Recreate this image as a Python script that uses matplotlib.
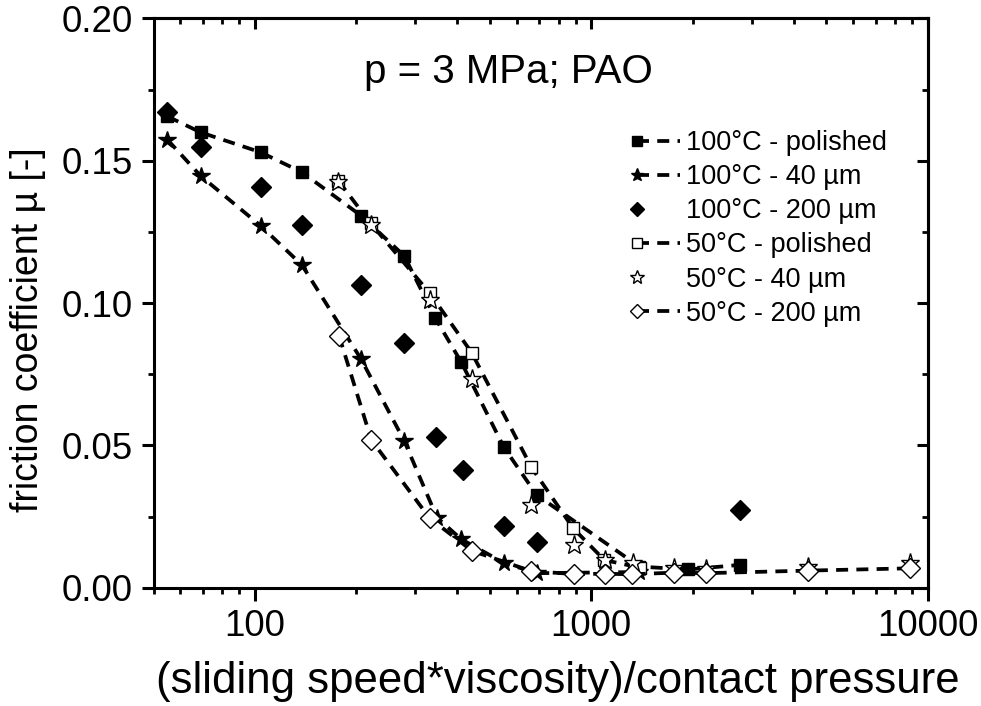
import matplotlib
matplotlib.use("Agg")
import matplotlib.pyplot as plt
import numpy as np
from matplotlib.legend_handler import HandlerLine2D
from matplotlib.ticker import FixedLocator, FormatStrFormatter, LogLocator, MultipleLocator, NullFormatter

plt.rcParams["font.family"] = ["Liberation Sans", "DejaVu Sans"]

_TICK = 26.5
_XLABEL = 31.5
_YLABEL = 27
_TITLE = 29
_LEGEND = 19.5

# ---- data ----
x_100_pol = [55, 69, 104, 138, 207, 278, 344, 411, 550, 688, 1390, 1940, 2760]
y_100_pol = [0.1656, 0.160, 0.153, 0.146, 0.1307, 0.1166, 0.0947, 0.0792, 0.0493, 0.0326, 0.0074, 0.0064, 0.0080]

x_100_40 = [55, 69, 104, 138, 207, 278, 348, 411, 552, 692, 1390]
y_100_40 = [0.1574, 0.1447, 0.1272, 0.1134, 0.0803, 0.0516, 0.0246, 0.0170, 0.0086, 0.0051, 0.0055]

x_100_200 = [55, 69, 104, 138, 207, 278, 345, 416, 552, 690, 2760]
y_100_200 = [0.1673, 0.1548, 0.1407, 0.1275, 0.1064, 0.0859, 0.0529, 0.0414, 0.0218, 0.0162, 0.0273]

x_50_pol = [177, 221, 331, 441, 664, 883, 1094, 1400]
y_50_pol = [0.1430, 0.1280, 0.1035, 0.0826, 0.0423, 0.0209, 0.0097, 0.0070]

x_50_40 = [177, 221, 331, 443, 664, 886, 1100, 1328, 1766, 2200, 4416, 8855]
y_50_40 = [0.1425, 0.1275, 0.1011, 0.0733, 0.0291, 0.0150, 0.0097, 0.0085, 0.0068, 0.0065, 0.0074, 0.0086]

x_50_200 = [178, 222, 331, 443, 664, 888, 1100, 1320, 1766, 2200, 4416, 8830]
y_50_200 = [0.0885, 0.0519, 0.0244, 0.0129, 0.0058, 0.0048, 0.0049, 0.0047, 0.0053, 0.0051, 0.0060, 0.0068]

labels = [
    "100°C - polished",
    "100°C - 40 µm",
    "100°C - 200 µm",
    "50°C - polished",
    "50°C - 40 µm",
    "50°C - 200 µm",
]


class _MarkerLeft(HandlerLine2D):
    # Origin-style legend: symbol on the left end, line running to the right
    def create_artists(self, *args, **kwargs):
        artists = super().create_artists(*args, **kwargs)
        for a in artists:
            a.set_markevery([0])
        return artists


DASH = (0, (3.2, 2.2))

fig = plt.figure(figsize=(9.81, 7.06), dpi=100)
ax = fig.add_axes([0.1565, 0.1676, 0.7892, 0.8062])

series = [
    (x_100_pol, y_100_pol, dict(marker="s", ms=9, mfc="black", ls=DASH)),
    (x_100_40, y_100_40, dict(marker="*", ms=13, mfc="black", ls=DASH)),
    (x_100_200, y_100_200, dict(marker="D", ms=10, mfc="black", ls="none")),
    (x_50_pol, y_50_pol, dict(marker="s", ms=9, mfc="white", ls=DASH)),
    (x_50_40, y_50_40, dict(marker="*", ms=14, mfc="white", ls="none")),
    (x_50_200, y_50_200, dict(marker="D", ms=10, mfc="white", ls=DASH)),
]

handles = []
for (xs, ys, kw), lab in zip(series, labels):
    (h,) = ax.plot(xs, ys, color="black", lw=2.7, mec="black", mew=1.0, label=lab, **kw)
    handles.append(h)

ax.set_xscale("log")
ax.set_xlim(50, 10000)
ax.set_ylim(0, 0.20)

ax.xaxis.set_major_locator(FixedLocator([100, 1000, 10000]))
ax.xaxis.set_major_formatter(FormatStrFormatter("%d"))
ax.xaxis.set_minor_locator(LogLocator(base=10, subs=np.arange(2, 10)))
ax.xaxis.set_minor_formatter(NullFormatter())
ax.yaxis.set_major_locator(MultipleLocator(0.05))
ax.yaxis.set_minor_locator(MultipleLocator(0.025))
ax.yaxis.set_major_formatter(FormatStrFormatter("%.2f"))

for sp in ax.spines.values():
    sp.set_linewidth(2.2)
ax.tick_params(which="major", direction="out", length=9, width=2.2, labelsize=_TICK)
ax.tick_params(axis="x", which="major", pad=6)
ax.tick_params(axis="y", which="major", pad=6)
ax.tick_params(which="minor", direction="out", length=4.5, width=2.0)

# mirrored ticks pointing inward on top and right
top = ax.secondary_xaxis("top")
top.xaxis.set_major_locator(FixedLocator([100, 1000, 10000]))
top.xaxis.set_minor_locator(LogLocator(base=10, subs=np.arange(2, 10)))
top.tick_params(which="major", direction="in", length=8, width=2.2, labeltop=False)
top.tick_params(which="minor", direction="in", length=4.5, width=2.0, labeltop=False)
top.spines["top"].set_linewidth(2.2)
right = ax.secondary_yaxis("right")
right.yaxis.set_major_locator(MultipleLocator(0.05))
right.yaxis.set_minor_locator(MultipleLocator(0.025))
right.tick_params(which="major", direction="in", length=8, width=2.2, labelright=False)
right.tick_params(which="minor", direction="in", length=4.5, width=2.0, labelright=False)
right.spines["right"].set_linewidth(2.2)

# axis titles placed where the original has them
fig.text(558 / 981, 1 - 681 / 706, "(sliding speed*viscosity)/contact pressure",
         ha="center", va="center", fontsize=_XLABEL)
fig.text(28 / 981, 1 - 330 / 706, "friction coefficient µ [-]",
         ha="center", va="center", rotation=90, fontsize=_YLABEL)

ax.text(0.458, 0.906, "p = 3 MPa; PAO", transform=ax.transAxes, ha="center", va="center", fontsize=_TITLE)

ax.legend(
    handles=handles,
    handler_map={h: _MarkerLeft(numpoints=1) for h in handles},
    loc="upper left",
    bbox_to_anchor=(0.6245, 0.804),
    frameon=False,
    fontsize=_LEGEND,
    handlelength=1.6,
    handletextpad=0.22,
    labelspacing=0.3,
    borderpad=0.0,
    borderaxespad=0.0,
    markerscale=0.75,
)

fig.savefig("out.png", dpi=100)
